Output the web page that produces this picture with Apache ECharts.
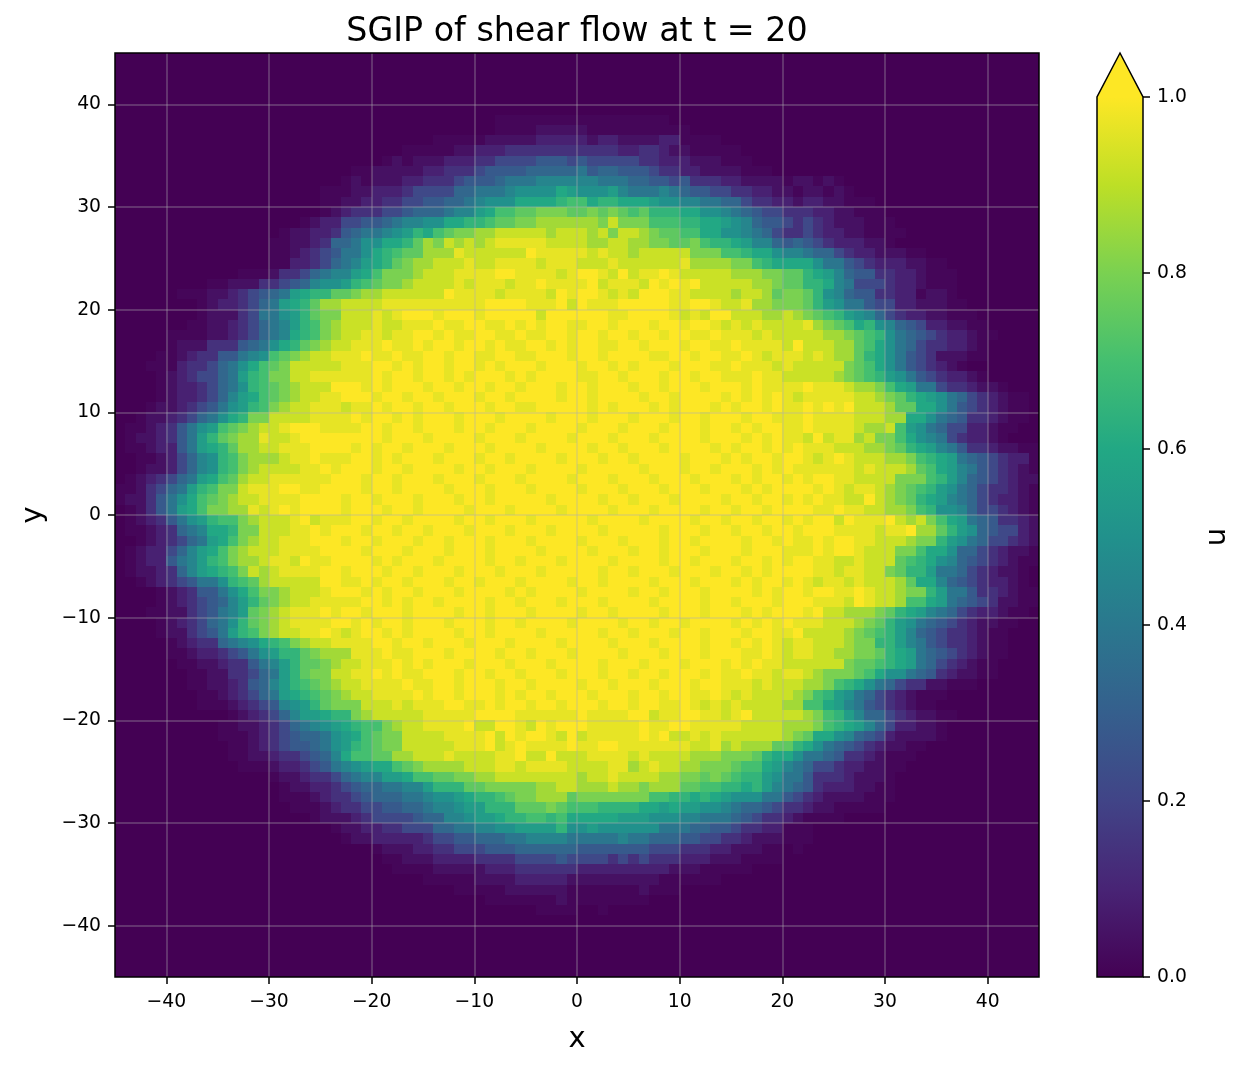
<!DOCTYPE html>
<html>
<head>
<meta charset="utf-8">
<script src="https://cdn.jsdelivr.net/npm/echarts@6/dist/echarts.min.js"></script>
<style>
html, body { margin: 0; padding: 0; background: #fff; }
#main { width: 1247px; height: 1069px; }
</style>
</head>
<body>
<div id="main"></div>
<script>
const viridis = ['#440154', '#482475', '#414487', '#355f8d', '#2a788e', '#21918c', '#22a884', '#44bf70', '#7ad151', '#bddf26', '#fde725'];
const xTicks = [-40, -30, -20, -10, 0, 10, 20, 30, 40];
const yTicks = [-40, -30, -20, -10, 0, 10, 20, 30, 40];
const cbarTicks = [0, 0.2, 0.4, 0.6, 0.8, 1.0];
const cbarOutline = [[0, 0], [1, 0], [1, 1], [0.5, 1.05], [0, 1]];

// u per cell, top row first, one letter per cell, letter -> value through levelValues
const levels = 'abcdefghijklmnopqrstu';
const levelValues = [0, 0.015, 0.045, 0.09, 0.14, 0.22, 0.28, 0.33, 0.39, 0.45, 0.5, 0.55, 0.6, 0.65, 0.7, 0.75, 0.8, 0.86, 0.92, 0.965, 1];
const B = 'aaaaaaaaaa';
const uRows = [
  [B,B,B,B,B,B,B,B,B].join(' '),
  [B,B,B,B,B,B,B,B,B].join(' '),
  [B,B,B,B,B,B,B,B,B].join(' '),
  [B,B,B,B,B,B,B,B,B].join(' '),
  [B,B,B,B,B,B,B,B,B].join(' '),
  [B,B,B,B,B,B,B,B,B].join(' '),
  'aaaaaaaaaa aaaaaaaaaa aaaaaaaaaa aaaaaaabbb bbbbbbbbbb bbbbaaaaaa aaaaaaaaaa aaaaaaaaaa aaaaaaaaaa',
  'aaaaaaaaaa aaaaaaaaaa aaaaaaaaaa aaaaaaabbb bcccccbbbb bbbbbbaaaa aaaaaaaaaa aaaaaaaaaa aaaaaaaaaa',
  'aaaaaaaaaa aaaaaaaaaa aaaaaaaaaa abbbbbcccc cdddddcddc cccddbbbba aaaaaaaaaa aaaaaaaaaa aaaaaaaaaa',
  'aaaaaaaaaa aaaaaaaaaa aaaaaaaabb bbbccdddee eeeeeeeeed deedccbbbb baaaaaaaaa aaaaaaaaaa aaaaaaaaaa',
  'aaaaaaaaaa aaaaaaaaaa aaaaaabcbc ccdddeefff fgggfgffff feedddcccb bbaaaaaaaa aaaaaaaaaa aaaaaaaaaa',
  'aaaaaaaaaa aaaaaaaaaa aaabbccccc ddeeefgggg hhhhhighhg ggfeeddccc cbbbaaaaaa aaaaaaaaaa aaaaaaaaaa',
  'aaaaaaaaaa aaaaaaaaaa aabcbcccdd eeefggghii ijjjjjjiii hhggfgeeed dccccbccbc baaaaaaaaa aaaaaaaaaa',
  'aaaaaaaaaa aaaaaaaaaa bbbccdddef fffhhiiijk kkkmlkkklj iiijihggff eeddccbccb cbaaaaaaaa aaaaaaaaaa',
  'aaaaaaaaaa aaaaaaaaaa bbccddeeff gghhijkkkm mmmnoomnnm mmlkkjjiih hfeeddcddc cbbbaaaaaa aaaaaaaaaa',
  'aaaaaaaaaa aaaaaaaaaa bcdeeeffgh hhijjlmoop pqqqppqpqp opnnnmmkkj ihgffeeedd ccbbbaaaaa aaaaaaaaaa',
  'aaaaaaaaaa aaaaaaaabc ddffgghijj kkmmnnoppq qrrrrrrqsq qqooonnmml kjhggfefed cccbbbaaaa aaaaaaaaaa',
  'aaaaaaaaaa aaaaaabccd deghiijkln mopqqrrsss ssrsssrsqs srqppoommk kjihfeefed dccbbbbaaa aaaaaaaaaa',
  'aaaaaaaaaa aaaaabbccd ehhikkmmnp rqsrsrsttt ttssssrrss rrqqppqonn mljjhghgfe dddccbaaaa aaaaaaaaaa',
  'aaaaaaaaaa aaaaabbcde fgiikmnopp rrrtssssss utttttstss rsssssqqqo onmmkjjihh feddcccbba aaaaaaaaaa',
  'aaaaaaaaaa aaaaabbdde fhijlmnpqr rssstssttt tstttsssts ssssstrrrr qqonmmmmki igfedddccb baaaaaaaaa',
  'aaaaaaaaaa aabbbceefh ijjlmoqqqr sssttttuut tttstuutsu sttutsssss rrrqqppnml jhggeeddcb bbaaaaaaaa',
  'aaaaaaaaab bccceefghj kklnopqqrs ssststttst tuttttustt tsututusss ssrrqppnnm jifffeddcb bbaaaaaaaa',
  'aaaaaabbbc cdefghilmn nppqrrssss ssuttttstt ttsutuutst suuuttssss rssrpqqpnk jhggeeddbc cbaaaaaaaa',
  'aaaaaaaabc ddefhilmnp rrsssstttt ttttttuuuu tttusutttu uuuuttuuts strrqqqpnl kiigffddcc cbbaaaaaaa',
  'aaaaaaaabc ccefiiklnp qqssststuu utuuutuuuu usuuuuuutt uuuutstsuu sssrrsrqpo nlkjhfeddc cbbbaaaaaa',
  'aaaaaaabbc cdefhijlno qrssstsstt tuttuuttut utuuttuutu uutuutuuts tstsssstrq pomnkjhgfd dccbbaaaaa',
  'aaaaabbbbc cdefhijmno qrssttsttu ututtuuttu ttuutuutuu tuutuuttut ttstsssssr rqponkihgf eddcbbaaaa',
  'aaaaabccce eeghikmnpq rsstttuttu tuutuututt uututuuttu utuuutuutt uttttsusss rrpomkihfe eddcbaaaaa',
  'aaaabbcdee ggijkopqrs stttuttutt uutuuttuut tuuutuutuu uuttuutuut tutstttsts rrpnmkigfe cccbbaaaaa',
  'aaabbbdeef hikmopqsss sstttuutut uutuututuu utuuutuutu tuuutuuutt utttstssss sqpomkigfe dcbaaaaaaa',
  'aaaabcdeff hilnoqqsst tttttutuut uututuuutu tuuuuttuut uuutuutuut ttuttsssss rqponlkigf eddcbaaaaa',
  'aaaabcddef hiknopqrss suuututuuu tuutuutuut uuutuutuuu tuutuuutuu ututtttutt tsrrqomlii feedccbaaa',
  'aaaabcddef hjlmopqrss ttuuutuutu utuuutuutu uuutuutuuu utuutuuuut utututsttt ttssrqpnml kihfedcbba',
  'aaabccdefg iklnoqrsst ttsttutuut uutuuutuut tuuuuututu uututuuutu tuututtutu tusssrppmm kigfedcbba',
  'aabccdefhi kmnqqsssst tttutuutut uuutuuutuu uutuuutuuu tuuutuutuu utuutttutt ttsssrrmmk ihgeedcbba',
  'abbcdegikl opqrsstuuu ttttuutuut uuutuutuuu tuuuutuuut uuutuuutuu tutuuttutt ttsrrsolki hffddcbbaa',
  'abccdegiln pqrrtsstuu uuuuuutuuu tuuuutuuut uuuutuuutu uutuuuutuu utututtsus ttrsqqomkj ifeddcbaaa',
  'abbcddgilm nprrsstttu uuututuutu uutuuutuuu utuuuutuut uuutuuuutu tuutututtt sssrrqpnml jigeedccbb',
  'aabbcdfhjk noqrrrsttu tttuututuu utuuutuutu uuutuuutuu tuuuutuuut utuutuutst utsssrrqon mlihgfeddb',
  'aabccdfhjk noqrsssstt utuuutuutu uuutuutuuu tuuuutuuuu utuuutuutu uutututttt ttstsssrpo mljigfedcb',
  'abcdefhilm oprssttttt tuuutuutuu utuuutuuut uuuutuuutu uutuuutuuu tutuututuu ttssssqqqo nljhgfedcc',
  'bbcefhilno qqstttuutt uuuutuutuu uutuuutuuu tuuuutuuut uuutuuutuu ututuuuutu tsttsrqpon lkihfeedcb',
  'bccegikmop qrssttttuu uutuutuuut uuutuutuuu uutuuuutuu tuuutuuuut uutuututut tssusrqpnm ljihfeddcb',
  'abcegilmoq qrrtstutuu uutuuutuut uuuutuuutu uuutuuuutu uutuuuutuu tuutuuuutt uttssrrqon kkjhffedcb',
  'abcdegikln ooqrssstus tttuutuutu uuutuutuuu tuuuuutuuu utuuuutuut uutuututuu sutttusrsq omlihgeedc',
  'abbcdehijm mnqqsssttu tuuutuutuu tuuutuuutu uutuuuutuu uuutuuutuu tuutuutuuu ttttstturr pnlkhgffdc',
  'aabcdefhil moqrsstttu uutuutuuut uutuuutuuu tuuuutuuut uuutuutuuu utuututtut uuttsssrqq nlkihffedc',
  'abcddfhjlm oqrssstttt uuuutuuutu uutuuutuuu utuuuutuuu tuutuuutuu utuuutttut uutsssqqom mkhhfedccb',
  'abcddgijln oqrrsttsut tuuuututuu utuuuutuut uuutuuuutu uuutuutuuu tuututuutt sstsssponm kjhgfedcbb',
  'abccdehjlm noqsrstttt uutuuutuut uuutuuutuu utuuuuutuu tuuutuuutu ututuuuutt sttssqpnnl iihfedccba',
  'aabcdefgii knoprsssss uuttutuutu uutuutuuut uuuutuutuu uutuuutuuu tutuututst tstsssrpmm jhgfeddcba',
  'aaaabcdegg ikmoqqrsss tuuututuut uuutuuuutu tuuuutuuuu tuutuuutuu uututuutuu ttutssrqqn liigeedcbb',
  'aaaabcdefg hjlnpqrsst ttttuututu utuuuutuut uuutuuutuu uutuuuutuu tuuutuuutt tsutssroom lihgfeccbb',
  'aaabbccefg ijlpqrsttt utuutuuutu uuutuutuuu tuuuutuutu uuutuuutuu ututuuutus srrrqpnmlj ihfeddcbba',
  'aaaabcdefh iknpqrsttt tuututuutu uutuuutuut uuuutuuuut uutuutuuuu tutututtts ssrqpnlkih gfedccbbaa',
  'aaaabccefg ilnoqrsstt utstuututu uuutuutuuu utuuuuutuu tuuutuutuu utuuttusss srqponljhg feedcbbaaa',
  'aaaaabcdee hijkmnoqrs sttttuutuu tuuutuuutu uuutuuuutu uutuuuutuu tututsttss srqqnnljig feedcbbaaa',
  'aaaaabbcdd efgiklnnpq rrrtttuttu uutuuuutuu tuuutuuuut uuutuuutuu uttutsttss rrqqpnmlih gfedcbbaaa',
  'aaaaaabbcc deegijlnpp qrsstttutu tuuutuuutu uutuuuutuu utuuutuuut ututtsssss sqpponmlih fedcbbaaaa',
  'aaaaaaabbc ceefhilnpq qssttututt uuutuutuut uuutuuutuu tuutuuutut tuttsttsrq qqpomkkihg edccbbaaaa',
  'aaaaaaabbc cdeghjlnop qrssttttut tuutuuutuu tuuuutuutu uutuuutuut ttstsssrrq onmkihfeec cbbbaaaaaa',
  'aaaaaaaabb cdefhilmno pqrssttttu tuutuuutut uutuuutuuu tuutuuttut stssssrqon lkihfedcbb baaaaaaaaa',
  'aaaaaaaabb bcdefgjkln pqqqssstst ttuuttutuu tuutuuutuu tuuttutsts tssssrroom ljigfedcbb aaaaaaaaaa',
  'aaaaaaaaaa abcdefhjll mnnqrsssss tttttuuuut tttttutttt uusttuutts tusssssrqo nljhhfedcc bbaaaaaaaa',
  'aaaaaaaaaa bbccdefhij klmnooqrss ttttussuut sutuuutttt tuttuutttt tssssrrrqo nmljhfddcc baaaaaaaaa',
  'aaaaaaaaaa bbbcdefghh iklmopqqss ssttttusut uutsustttt tutusststs sssssrqpmm kjhgfdcccc baaaaaaaaa',
  'aaaaaaaaaa abbcdefggh iklnopqqss ssstttustu ttttuttuut ttttttsstr srrrppnmki hgfedccbba aaaaaaaaaa',
  'aaaaaaaaaa abbccdeefg hjmoopprrs sstssssttu ssussstttt stssssrrrq qqpnmmkiih geedcbbbaa aaaaaaaaaa',
  'aaaaaaaaaa aabbbcddef gijklmmopq rrrrssstts ttttsssstt rstssrrqqq poomljihff eddccbbaaa aaaaaaaaaa',
  'aaaaaaaaaa aaaaabccde efhijjllmo oppqqrrsss sssssrssts sssrrqqpqp onnlkiigee edcccbaaaa aaaaaaaaaa',
  'aaaaaaaaaa aaaaaabccd defghhiijj lnnnppqqqq qrrssrrrsr rqrrrppoon nmnljihged ddccbbaaaa aaaaaaaaaa',
  'aaaaaaaaaa aaaaaabbbc deefghhhii jkklmnnopq qrrrpqqqqq qqoonnmnml kkkiigfedc cccbbbaaaa aaaaaaaaaa',
  'aaaaaaaaaa aaaaaaabbb cdeeffgghh ijjkllnnnp ppqpooonnn nmmlmllkkj ihhgfeedcc bbbbbaaaaa aaaaaaaaaa',
  'aaaaaaaaaa aaaaaaaaab cccdeffffg hhjjkllmnn oonommmmml llkkkjjiii hgfeedcbbb baaaaaaaaa aaaaaaaaaa',
  'aaaaaaaaaa aaaaaaaaaa abccddeeff fhhiijjkkl lllnkklkkk kkkiiihhgg feeddbbbaa aaaaaaaaaa aaaaaaaaaa',
  'aaaaaaaaaa aaaaaaaaaa aabccddddd effgghhhii jjjjiiiiij iihhhggffe edcccbbbaa aaaaaaaaaa aaaaaaaaaa',
  'aaaaaaaaaa aaaaaaaaaa aaaaabcccd deefffgggh hhhhhggggg ggfffeeedd cccbbabaaa aaaaaaaaaa aaaaaaaaaa',
  'aaaaaaaaaa aaaaaaaaaa aaaaaabbcc cddddeeeef fffgffffef efeeedddcc cbbbbaaaaa aaaaaaaaaa aaaaaaaaaa',
  'aaaaaaaaaa aaaaaaaaaa aaaaaaabbb bcccccddde eeeeeddddd ddddcccbbb bbaaaaaaaa aaaaaaaaaa aaaaaaaaaa',
  'aaaaaaaaaa aaaaaaaaaa aaaaaaaaaa bbbbbccccd ddddcccccc cccbbbbbba aaaaaaaaaa aaaaaaaaaa aaaaaaaaaa',
  'aaaaaaaaaa aaaaaaaaaa aaaaaaaaaa aaabbbbbcc ccccbbbbbb bcbbbaaaaa aaaaaaaaaa aaaaaaaaaa aaaaaaaaaa',
  'aaaaaaaaaa aaaaaaaaaa aaaaaaaaaa aaaaaabbbb bbbcbbbbbb bbaaaaaaaa aaaaaaaaaa aaaaaaaaaa aaaaaaaaaa',
  'aaaaaaaaaa aaaaaaaaaa aaaaaaaaaa aaaaaaaaaa abbbbaabaa aaaaaaaaaa aaaaaaaaaa aaaaaaaaaa aaaaaaaaaa',
  [B,B,B,B,B,B,B,B,B].join(' '),
  [B,B,B,B,B,B,B,B,B].join(' '),
  [B,B,B,B,B,B,B,B,B].join(' '),
  [B,B,B,B,B,B,B,B,B].join(' '),
  [B,B,B,B,B,B,B,B,B].join(' '),
  [B,B,B,B,B,B,B,B,B].join(' ')
];

const font = '"DejaVu Sans"';
const cells = [];
uRows.forEach(function (row, r) {
  row.replace(/ /g, '').split('').forEach(function (ch, c) {
    cells.push([-45 + c + 0.5, 45 - r - 0.5, levelValues[levels.indexOf(ch)]]);
  });
});

const minusLabel = (v) => String(v).replace('-', '\u2212');
const tickStyle = { length: 7, lineStyle: { color: '#000', width: 1.5 } };
const labelStyle = { fontFamily: font, fontSize: 18.75, color: '#000', margin: 14 };
const gridLine = { show: true, lineStyle: { color: 'rgba(176,176,176,0.4)', width: 1.5 } };

const myChart = echarts.init(document.getElementById('main'), null, { renderer: 'canvas' });
const option = {
  animation: false,
  backgroundColor: '#fff',
  title: {
    text: 'SGIP of shear flow at t = 20',
    left: 577,
    top: 16,
    padding: 0,
    textAlign: 'center',
    textStyle: { fontFamily: font, fontSize: 33.3, fontWeight: 'normal', color: '#000' }
  },
  visualMap: {
    show: false,
    type: 'continuous',
    min: 0,
    max: 1,
    dimension: 2,
    seriesIndex: 0,
    inRange: { color: viridis }
  },
  grid: [
    { left: 115, top: 53, width: 924, height: 924, show: true, z: 6, borderColor: '#000', borderWidth: 1.5, backgroundColor: 'transparent' },
    { left: 1097, top: 53, width: 46, height: 924 }
  ],
  xAxis: [
    {
      type: 'value', gridIndex: 0, min: -45, max: 45, z: 5,
      name: 'x', nameLocation: 'middle', nameGap: 48,
      nameTextStyle: { fontFamily: font, fontSize: 29, color: '#000' },
      axisLine: { show: false, onZero: false },
      axisTick: Object.assign({ customValues: xTicks }, tickStyle),
      axisLabel: Object.assign({ customValues: xTicks, formatter: minusLabel, padding: [2, 0, 0, 0] }, labelStyle),
      splitLine: gridLine
    },
    { type: 'value', gridIndex: 1, min: 0, max: 1, show: false }
  ],
  yAxis: [
    {
      type: 'value', gridIndex: 0, min: -45, max: 45, z: 5,
      name: 'y', nameLocation: 'middle', nameGap: 67,
      nameTextStyle: { fontFamily: font, fontSize: 29, color: '#000' },
      axisLine: { show: false, onZero: false },
      axisTick: Object.assign({ customValues: yTicks }, tickStyle),
      axisLabel: Object.assign({ customValues: yTicks, formatter: minusLabel, padding: [5, 0, 0, 0] }, labelStyle),
      splitLine: gridLine
    },
    {
      type: 'value', gridIndex: 1, min: 0, max: 1.05, position: 'right',
      axisLine: { show: false, onZero: false },
      splitLine: { show: false },
      axisTick: Object.assign({ customValues: cbarTicks }, tickStyle),
      axisLabel: Object.assign({ customValues: cbarTicks, formatter: (v) => v.toFixed(1), padding: [5, 0, 0, 0] }, labelStyle)
    }
  ],
  graphic: [
    {
      type: 'text', x: 1217, y: 537, rotation: Math.PI / 2,
      style: { text: 'u', fontFamily: font, fontSize: 29, fill: '#000', textAlign: 'center', textVerticalAlign: 'middle' }
    }
  ],
  series: [
    {
      type: 'custom',
      coordinateSystem: 'cartesian2d',
      xAxisIndex: 0,
      yAxisIndex: 0,
      progressive: 0,
      z: 1,
      encode: { x: 0, y: 1 },
      data: cells,
      renderItem: function (params, api) {
        const x = api.value(0);
        const y = api.value(1);
        const p0 = api.coord([x - 0.5, y + 0.5]);
        const p1 = api.coord([x + 0.5, y - 0.5]);
        const left = Math.round(p0[0]);
        const top = Math.round(p0[1]);
        return {
          type: 'rect',
          shape: { x: left, y: top, width: Math.round(p1[0]) - left, height: Math.round(p1[1]) - top },
          style: { fill: api.visual('color') }
        };
      }
    },
    {
      type: 'custom',
      coordinateSystem: 'cartesian2d',
      xAxisIndex: 1,
      yAxisIndex: 1,
      z: 2,
      silent: true,
      data: [[0, 0]],
      renderItem: function (params, api) {
        const outline = cbarOutline.map((p) => api.coord(p));
        const stops = viridis.map((c, i) => ({ offset: i / (viridis.length - 1), color: c }));
        return {
          type: 'group',
          children: [
            {
              type: 'rect',
              shape: { x: outline[0][0], y: outline[2][1], width: outline[1][0] - outline[0][0], height: outline[0][1] - outline[2][1] },
              style: { fill: new echarts.graphic.LinearGradient(0, 1, 0, 0, stops) }
            },
            { type: 'polygon', shape: { points: [outline[2], outline[3], outline[4]] }, style: { fill: viridis[10] } },
            { type: 'polygon', shape: { points: outline }, style: { fill: 'none', stroke: '#000', lineWidth: 1.5 } }
          ]
        };
      }
    }
  ]
};
myChart.setOption(option);
</script>
</body>
</html>
